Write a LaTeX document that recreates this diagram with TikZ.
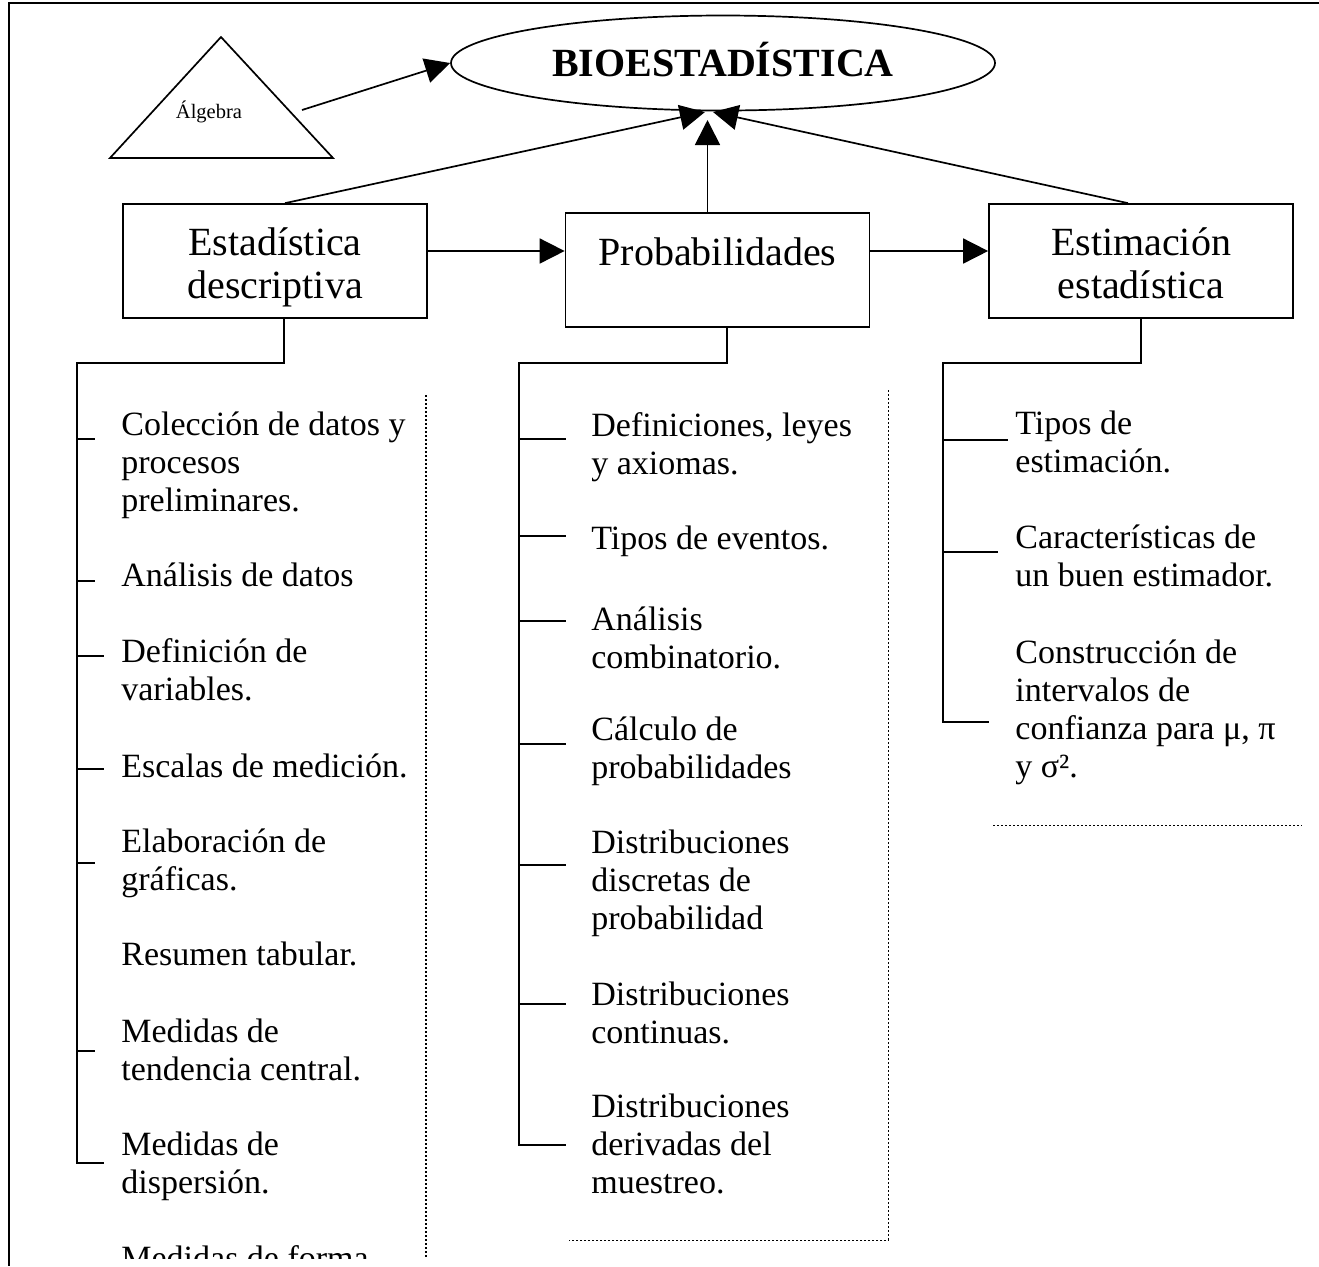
\documentclass[tikz,border=0pt]{standalone}
\usepackage{fontspec}
\setmainfont{Liberation Serif}
\usetikzlibrary{arrows.meta,shapes.geometric,calc}
\newcommand\blk[1]{\begin{tabular}[t]{@{}l@{}}#1\end{tabular}}
\newcommand\cblk[1]{\begin{tabular}[t]{@{}c@{}}#1\end{tabular}}
\begin{document}
\begin{tikzpicture}[x=0.5pt,y=-0.5pt,
  ln/.style={line width=0.85pt},
  arr/.style={line width=0.85pt,-{Triangle[length=12.5pt,width=12.5pt]}},
  boxnode/.style={draw,line width=0.85pt,rectangle,minimum width=152pt,minimum height=57pt,inner sep=0pt,font=\fontsize{20}{21.5}\selectfont,text height=10pt,text depth=16pt},
  item/.style={anchor=base west,inner sep=0pt,font=\fontsize{17}{19}\selectfont},
  dotl/.style={line width=0.9pt,dash pattern=on 0.9pt off 1.1pt},
  dotm/.style={line width=0.45pt,dash pattern=on 1pt off 1pt}]
\useasboundingbox (0,0) rectangle (1319,1266);
% frame
\draw[ln] (1319,3) -- (9,3) -- (9,1266);

% title ellipse
\node[draw,ellipse,line width=0.85pt,minimum width=272pt,minimum height=47.5pt,inner sep=0pt,
      font=\bfseries\fontsize{20}{22}\selectfont,text height=13.2pt,text depth=0pt] (bio) at (723,63) {BIOESTADÍSTICA};

% triangle
\draw[ln] (221,37) -- (333,158) -- (110,158) -- cycle;
\node[anchor=base,inner sep=0pt,font=\fontsize{10.25}{12}\selectfont] (alg) at (209,118) {Álgebra};
\coordinate (algout) at (302,110);
\draw[arr] (algout) -- (bio.west);

% main boxes
\node[boxnode] (b1) at (275,261) {\cblk{Estadística\\descriptiva}};
\node[boxnode,text depth=15pt] (b2) at (717.5,270) {\cblk{Probabilidades}};
\node[boxnode] (b3) at (1141,261) {\cblk{Estimación\\estadística}};

% arrows to title
\coordinate (tipl) at (705,112);
\coordinate (tipc) at (707.5,120);
\coordinate (tipr) at (713,112);
\draw[arr] ([xshift=5pt]b1.north) -- (tipl);
\draw[arr] (b2.north -| tipc) -- (tipc);
\draw[arr] ([xshift=-6.5pt]b3.north) -- (tipr);

% arrows between boxes
\coordinate (a12) at ([yshift=5pt]b1.east);
\draw[arr] (a12) -- (a12 -| b2.west);
\draw[arr] (a12 -| b2.east) -- (a12 -| b3.west);

% tree lines
\draw[ln] ([xshift=4.5pt]b1.south) |- (77,363) -- (77,1163) -- (104,1163);
\draw[ln] ([xshift=4.75pt]b2.south) |- (519,363) -- (519,1145) -- (566,1145);
\draw[ln] (b3.south) |- (943,363) -- (943,722) -- (989,722);

% ticks left
\foreach \y/\x in {439/95,581/95,656/104,769/104,863/95,1051/95}
  \draw[ln] (77,\y) -- (\x,\y);
% ticks middle
\foreach \y in {439,536,621,744,865,1004}
  \draw[ln] (519,\y) -- (566,\y);
% ticks right
\draw[ln] (943,440) -- (1008,440);
\draw[ln] (943,552) -- (998,552);

% dotted guides
\draw[dotl] (426,395) -- (426,1258);
\draw[dotm] (888,390) -- (888,1240) -- (569,1240);
\draw[dotm] (993,825) -- (1302,825);

% left list
\node[item] (l1) at (121,435) {\blk{Colección de datos y\\procesos\\preliminares.}};
\node[item] (l2) at (121,586) {\blk{Análisis de datos}};
\node[item] (l3) at (121,662) {\blk{Definición de\\variables.}};
\node[item] (l4) at (121,777) {\blk{Escalas de medición.}};
\node[item] (l5) at (121,852) {\blk{Elaboración de\\gráficas.}};
\node[item] (l6) at (121,965) {\blk{Resumen tabular.}};
\node[item] (l7) at (121,1042) {\blk{Medidas de\\tendencia central.}};
\node[item] (l8) at (121,1155) {\blk{Medidas de\\dispersión.}};
\begin{scope}
\clip (100,1200) rectangle (425,1258);
\node[item] (l9) at (121,1269) {\blk{Medidas de forma.}};
\end{scope}

% middle list
\node[item] (m1) at (591,436) {\blk{Definiciones, leyes\\y axiomas.}};
\node[item] (m2) at (591,549) {\blk{Tipos de eventos.}};
\node[item] (m3) at (591,630) {\blk{Análisis\\combinatorio.}};
\node[item] (m4) at (591,740) {\blk{Cálculo de\\probabilidades}};
\node[item] (m5) at (591,853) {\blk{Distribuciones\\discretas de\\probabilidad}};
\node[item] (m6) at (591,1005) {\blk{Distribuciones\\continuas.}};
\node[item] (m7) at (591,1117) {\blk{Distribuciones\\derivadas del\\muestreo.}};

% right list
\node[item] (r1) at (1015,434) {\blk{Tipos de\\estimación.}};
\node[item] (r2) at (1015,548) {\blk{Características de\\un buen estimador.}};
\node[item] (r3) at (1015,663) {\blk{Construcción de\\intervalos de\\confianza para μ, π\\y σ².}};
\end{tikzpicture}
\end{document}
